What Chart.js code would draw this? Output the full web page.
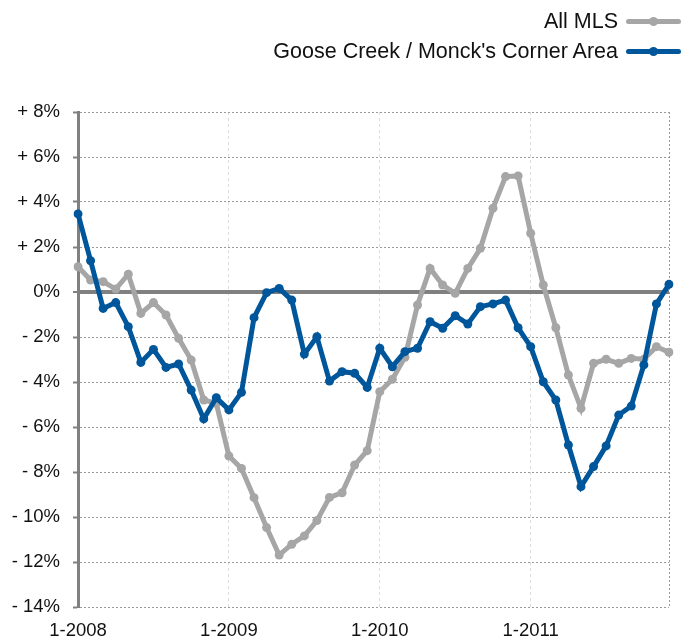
<!DOCTYPE html>
<html>
<head>
<meta charset="utf-8">
<script src="https://cdn.jsdelivr.net/npm/chart.js@4.4.0/dist/chart.umd.min.js"></script>
<style>
  body { margin: 0; background: #fff; font-family: "Liberation Sans", Arial, Helvetica, sans-serif; }
  #wrap { position: relative; width: 689px; height: 638px; }
  #legenda { position: absolute; top: 0; right: 8px; text-align: right; }
  .item { height: 30px; display: flex; align-items: center; justify-content: flex-end; font-size: 21.5px; color: #111; }
  .item:first-child { margin-top: 6px; }
  .amostra { position: relative; width: 55px; height: 5px; margin-left: 8px; border-radius: 3px; }
  .amostra span { position: absolute; left: 23px; top: -2px; width: 9px; height: 9px; border-radius: 50%; }
</style>
</head>
<body>
<div id="wrap">
  <canvas id="grafico" width="689" height="638"></canvas>
  <div id="legenda"></div>
</div>
<script>
// meses de 1-2008 a 12-2011
const meses = [];
for (let a = 2008; a <= 2011; a++) for (let m = 1; m <= 12; m++) meses.push(m + '-' + a);

const ticksY = [8, 6, 4, 2, 0, -2, -4, -6, -8, -10, -12, -14];

const allMls = [
  1.12, 0.53, 0.46, 0.13, 0.79, -0.95, -0.47, -1.02, -2.06, -3.02, -4.80, -4.95,
  -7.29, -7.84, -9.14, -10.47, -11.69, -11.21, -10.84, -10.16, -9.13, -8.92, -7.69, -7.05,
  -4.43, -3.88, -2.90, -0.58, 1.05, 0.31, -0.06, 1.05, 1.94, 3.72, 5.13, 5.16,
  2.61, 0.31, -1.59, -3.69, -5.17, -3.17, -2.99, -3.17, -2.95, -2.99, -2.43, -2.68
];

const gooseCreek = [
  3.47, 1.39, -0.73, -0.47, -1.54, -3.13, -2.55, -3.35, -3.20, -4.36, -5.64, -4.70,
  -5.24, -4.46, -1.14, -0.03, 0.16, -0.36, -2.76, -1.99, -3.96, -3.54, -3.61, -4.24,
  -2.50, -3.32, -2.65, -2.50, -1.32, -1.61, -1.05, -1.42, -0.65, -0.53, -0.36, -1.59,
  -2.43, -3.99, -4.80, -6.80, -8.65, -7.76, -6.84, -5.47, -5.07, -3.24, -0.53, 0.34
];

const corCinza = '#a6a6a6';
const corAzul = '#00569a';

const series = [
  { label: 'All MLS', dados: allMls, cor: corCinza, ordem: 1 },
  { label: "Goose Creek / Monck's Corner Area", dados: gooseCreek, cor: corAzul, ordem: 0 }
];

// legenda em html, alinhada a direita
const divLegenda = document.getElementById('legenda');
series.forEach(s => {
  divLegenda.innerHTML += `
    <div class="item">${s.label}<div class="amostra" style="background:${s.cor}"><span style="background:${s.cor}"></span></div></div>`;
});

const fonteEixo = { family: '"Liberation Sans", Arial, Helvetica, sans-serif', size: 18.5 };

new Chart(document.getElementById('grafico'), {
  type: 'line',
  data: {
    labels: meses,
    datasets: series.map(s => ({
      label: s.label, data: s.dados, order: s.ordem,
      borderColor: s.cor, backgroundColor: s.cor,
      borderWidth: 5, pointRadius: 4.5, pointHoverRadius: 4.5, pointBorderWidth: 0,
      tension: 0, fill: false
    }))
  },
  options: {
    responsive: false, animation: false,
    layout: { padding: { top: 112, right: 20, left: 0, bottom: 0 } },
    plugins: { legend: { display: false }, tooltip: { enabled: false } },
    scales: {
      x: {
        offset: false,
        afterFit: s => { s.height = 31; },
        grid: {
          drawTicks: false,
          color: c => c.index === meses.length - 1 ? '#9a9a9a' : (c.index % 12 === 0 && c.index > 0 ? '#dcdcdc' : 'rgba(0,0,0,0)'),
          lineWidth: 1
        },
        border: { display: false, dash: c => c.index === meses.length - 1 ? [2, 2] : [3, 3] },
        ticks: {
          autoSkip: false, maxRotation: 0, padding: 13, color: '#111', font: fonteEixo,
          callback: (v, i) => i % 12 === 0 ? meses[i] : ''
        }
      },
      y: {
        min: -14, max: 8,
        afterFit: s => { s.width = 78; },
        afterBuildTicks: s => { s.ticks = ticksY.map(v => ({ value: v })); },
        grid: {
          color: c => c.tick && c.tick.value === 0 ? '#808080' : '#9a9a9a',
          lineWidth: c => c.tick && c.tick.value === 0 ? 4 : 1,
          tickLength: 5, tickColor: '#808080', tickWidth: 2
        },
        border: { display: true, color: '#808080', width: 3, dash: c => c.tick && c.tick.value === 0 ? [] : [2, 2] },
        ticks: {
          padding: 13, color: '#111', font: fonteEixo,
          callback: v => v > 0 ? '+ ' + v + '%' : (v < 0 ? '- ' + Math.abs(v) + '%' : '0%')
        }
      }
    }
  }
});
</script>
</body>
</html>
